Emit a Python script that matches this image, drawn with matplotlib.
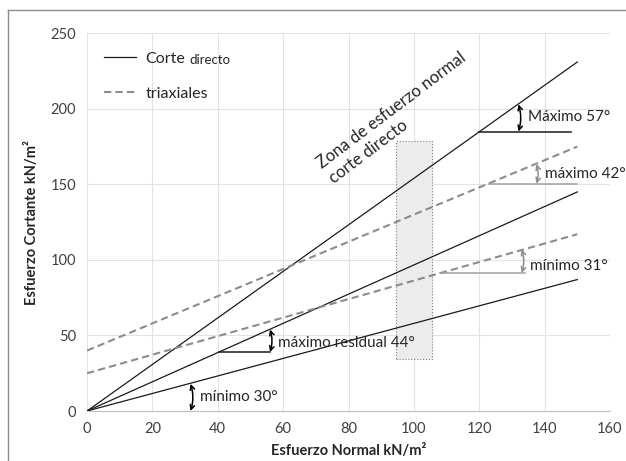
import matplotlib
matplotlib.use('Agg')
import matplotlib.pyplot as plt
from matplotlib.patches import Rectangle
from matplotlib.lines import Line2D

plt.rcParams['font.family'] = ['Lato', 'DejaVu Sans']

# rectas de resistencia (x = 0 y x = 150)
x_ends = [0, 150]
corte_57 = [0, 231]
corte_44 = [0, 145]
corte_30 = [0, 87]
triax_42 = [40, 175]
triax_31 = [25, 117]

# zona de esfuerzo normal corte directo
zona_x = [94.5, 105.5]
zona_y = [34.5, 179]

# lineas horizontales de referencia: x inicio, x fin, y
ref_57 = [120, 148, 185]
ref_42 = [123, 150, 150.5]
ref_31 = [108, 134, 91.4]
ref_44 = [40.5, 56, 39]

# flechas de angulo: x, y abajo, y arriba
arr_57 = [132, 185, 203]
arr_42 = [137.5, 150.5, 163.5]
arr_31 = [133, 91.4, 107]
arr_44 = [56, 39, 54]
arr_30 = [31.7, 0, 18]

# etiquetas: texto, x, y
etiquetas = [
    ('Máximo 57°', 135, 194.5),
    ('máximo 42°', 140, 157),
    ('mínimo 31°', 135.4, 95.8),
    ('máximo residual 44°', 58.4, 45.3),
    ('mínimo 30°', 34.5, 9.3),
]

fig = plt.figure(figsize=(6.26, 4.61), dpi=100)
ax = fig.add_axes([87/626, 50/461, (610-87)/626, (411-33.3)/461])

ax.set_xlim(0, 160)
ax.set_ylim(0, 250)
ax.set_xticks(range(0, 161, 20))
ax.set_yticks(range(0, 251, 50))
ax.grid(True, color='#e3e3e3', lw=0.8)
ax.set_axisbelow(True)
for s in ['top', 'right', 'left']:
    ax.spines[s].set_visible(False)
ax.spines['bottom'].set_color('#c0c0c0')
ax.tick_params(length=0, labelsize=10.5, labelcolor='#404040', pad=8)

ax.add_patch(Rectangle((zona_x[0], zona_y[0]), zona_x[1]-zona_x[0], zona_y[1]-zona_y[0],
                       facecolor='#ececec', edgecolor='#7f7f7f', ls=':', lw=0.8, zorder=1))

l1, = ax.plot(x_ends, corte_57, color='#1a1a1a', lw=0.9, zorder=3)
ax.plot(x_ends, corte_44, color='#1a1a1a', lw=0.9, zorder=3)
ax.plot(x_ends, corte_30, color='#1a1a1a', lw=0.9, zorder=3)
l2, = ax.plot(x_ends, triax_42, color='#8c8c8c', lw=1.5, ls=(0, (3.5, 2)), zorder=3)
ax.plot(x_ends, triax_31, color='#8c8c8c', lw=1.5, ls=(0, (3.5, 2)), zorder=3)

for r, c in [(ref_57, '#1a1a1a'), (ref_42, '#a0a0a0'), (ref_31, '#a0a0a0'), (ref_44, '#1a1a1a')]:
    ax.plot([r[0], r[1]], [r[2], r[2]], color=c, lw=1.1, zorder=3)

for a, c in [(arr_57, 'black'), (arr_42, '#8c8c8c'), (arr_31, '#8c8c8c'),
             (arr_44, 'black'), (arr_30, 'black')]:
    ax.annotate('', xy=(a[0], a[2]), xytext=(a[0], a[1]),
                arrowprops=dict(arrowstyle='<->', connectionstyle='arc3,rad=0.15',
                                color=c, lw=1.1, shrinkA=0, shrinkB=0,
                                mutation_scale=8), zorder=4)

for t, x, y in etiquetas:
    ax.text(x, y, t, ha='left', va='center', fontsize=11, color='#262626', zorder=5)

# anclado en la linea base de la segunda linea
ax.text(74.9, 152, 'Zona de esfuerzo normal\ncorte directo', rotation=37,
        rotation_mode='anchor', ha='left', va='baseline', multialignment='left',
        fontsize=12, color='#262626', linespacing=1.25)

leg = ax.legend([l1, l2], ['Corte', 'triaxiales'], loc='upper left',
                bbox_to_anchor=(0.02, 0.968), frameon=False, fontsize=11.5,
                handlelength=2.0, handletextpad=0.6, labelspacing=1.3,
                borderaxespad=0, labelcolor='#262626')
ax.annotate('directo', xy=(1, 0), xycoords=leg.get_texts()[0], xytext=(3, 0),
            textcoords='offset points', ha='left', va='bottom', fontsize=9.5,
            color='#262626', zorder=10)

ax.set_xlabel('Esfuerzo Normal kN/m²', fontsize=10.5, fontweight='bold',
              color='#262626', labelpad=6)
ax.set_ylabel('Esfuerzo Cortante kN/m²', fontsize=10.5, fontweight='bold',
              color='#262626', labelpad=8)

# marco exterior
fig.add_artist(Line2D([8/626, 8/626], [0, 1-10/461], color='#8c8c8c', lw=1))
fig.add_artist(Line2D([8/626, 1], [1-10/461, 1-10/461], color='#8c8c8c', lw=1))

fig.savefig('out.png', dpi=100)
